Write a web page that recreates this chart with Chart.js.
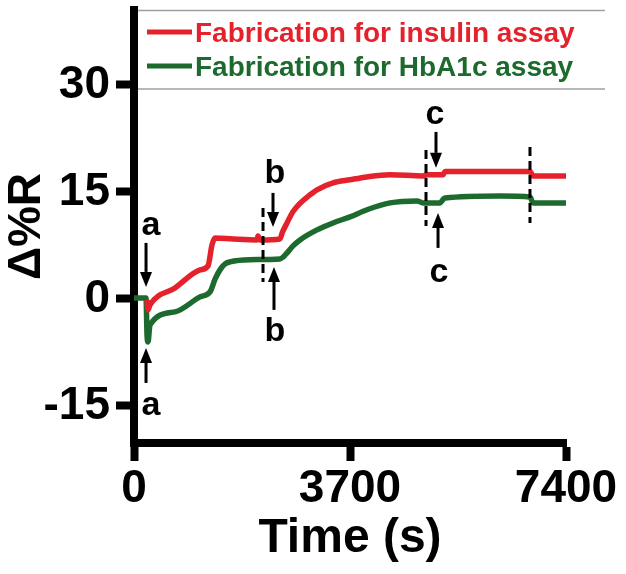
<!DOCTYPE html>
<html><head><meta charset="utf-8">
<script src="https://cdn.jsdelivr.net/npm/chart.js@4"></script>
<style>html,body{margin:0;padding:0;background:#fff;} #wrap{width:626px;height:574px;}</style>
</head><body><div id="wrap"><canvas id="c" width="626" height="574"></canvas></div>
<script>
const seriesLabels = ['Fabrication for insulin assay', 'Fabrication for HbA1c assay'];
const seriesColors = ['#e5212b', '#1d6a2f'];
const insulinTime  = [223, 240, 274, 702, 1131, 1268, 1336, 1388, 1700, 2107, 2124, 2158, 2501, 2540, 2621, 2720, 2844, 3000, 3135, 3409, 3700, 3991, 4385, 4951, 5020, 5290, 5330, 6783, 6835, 7400];
const insulinValue = [-0.14, -1.54, -0.84, 1.54, 4.07, 4.63, 7.57, 8.55, 8.4, 8.27, 8.83, 8.27, 8.41, 9.3, 10.65, 12.2, 13.4, 14.5, 15.3, 16.26, 16.7, 17.1, 17.4, 17.24, 17.4, 17.4, 17.85, 17.85, 17.24, 17.24];
const hba1cTime  = [0, 206, 223, 240, 274, 702, 1131, 1302, 1390, 1473, 1560, 1644, 1987, 2501, 2560, 2621, 2720, 2844, 3135, 3409, 3700, 3991, 4385, 4848, 4951, 5242, 5300, 5328, 6270, 6783, 6835, 7400];
const hba1cValue = [0.14, 0.14, -5.05, -6.03, -3.64, -1.82, 0.28, 0.98, 2.8, 4.07, 4.9, 5.19, 5.5, 5.6, 5.9, 6.45, 7.4, 8.27, 9.67, 10.65, 11.5, 12.5, 13.46, 13.74, 13.46, 13.46, 14.0, 14.16, 14.44, 14.3, 13.46, 13.46];
const xTicks = [0, 3700, 7400];
const yTicks = [-15, 0, 15, 30];
const xTitle = 'Time (s)';
const yTitle = 'Δ%R';
// annotations in data units
const dashTime = [2210, 5002, 6783];
const dashLow  = [2.38, 10.23, 10.65];
const dashHigh = [12.76, 20.89, 21.31];
const arrowTime = [206, 206, 2381, 2398, 5173, 5208];
const arrowFrom = [7.85, -11.78, 14.86, -1.54, 23.41, 7.15];
const arrowTo   = [1.68, -6.87, 10.09, 4.49, 18.37, 12.06];
const labelText  = ['a', 'a', 'b', 'b', 'c', 'c'];
const labelTime  = [291, 291, 2415, 2415, 5156, 5225];
const labelValue = [8.97, -16.26, 16.26, -5.89, 24.53, 2.38];

const FONT = '"Liberation Sans", Arial, Helvetica, sans-serif';

const annot = {
  id: 'annot',
  afterDatasetsDraw(chart) {
    const {ctx, scales: {x, y}} = chart;
    ctx.save();
    ctx.strokeStyle = '#000'; ctx.fillStyle = '#000';
    ctx.lineWidth = 3; ctx.setLineDash([9, 5]);
    dashTime.forEach((t, i) => {
      const px = x.getPixelForValue(t);
      ctx.beginPath();
      ctx.moveTo(px, y.getPixelForValue(dashHigh[i]));
      ctx.lineTo(px, y.getPixelForValue(dashLow[i]));
      ctx.stroke();
    });
    ctx.setLineDash([]);
    arrowTime.forEach((t, i) => {
      const px = x.getPixelForValue(t);
      const y0 = y.getPixelForValue(arrowFrom[i]);
      const y1 = y.getPixelForValue(arrowTo[i]);
      const dir = Math.sign(y1 - y0), hl = 15, hw = 6;
      ctx.lineWidth = 3;
      ctx.beginPath(); ctx.moveTo(px, y0); ctx.lineTo(px, y1 - dir * hl); ctx.stroke();
      ctx.beginPath(); ctx.moveTo(px, y1); ctx.lineTo(px - hw, y1 - dir * hl); ctx.lineTo(px + hw, y1 - dir * hl); ctx.closePath(); ctx.fill();
    });
    ctx.font = 'bold 34px ' + FONT;
    ctx.textAlign = 'center'; ctx.textBaseline = 'alphabetic';
    labelText.forEach((s, i) => ctx.fillText(s, x.getPixelForValue(labelTime[i]), y.getPixelForValue(labelValue[i])));
    ctx.restore();
  },
  afterDraw(chart) {
    const {ctx, chartArea} = chart;
    ctx.save();
    ctx.strokeStyle = '#a0a0a0'; ctx.lineWidth = 1.5;
    const bx0 = chartArea.left + 4, bx1 = 605;
    [chartArea.top + 0.5, chartArea.top + 79].forEach(yy => {
      ctx.beginPath(); ctx.moveTo(bx0, yy); ctx.lineTo(bx1, yy); ctx.stroke();
    });
    ctx.font = 'bold 28px ' + FONT;
    ctx.textAlign = 'left'; ctx.textBaseline = 'middle';
    chart.data.datasets.forEach((ds, i) => {
      const ly = chartArea.top + 22 + i * 34;
      ctx.strokeStyle = ds.borderColor; ctx.lineWidth = 5;
      ctx.beginPath(); ctx.moveTo(chartArea.left + 13, ly); ctx.lineTo(chartArea.left + 58, ly); ctx.stroke();
      ctx.fillStyle = ds.borderColor;
      ctx.fillText(ds.label, chartArea.left + 61, ly + 2);
    });
    ctx.restore();
  }
};

const mk = (ts, vs) => ts.map((t, i) => ({x: t, y: vs[i]}));

new Chart(document.getElementById('c'), {
  type: 'line',
  data: {
    datasets: [
      {label: seriesLabels[0], data: mk(insulinTime, insulinValue), borderColor: seriesColors[0], backgroundColor: seriesColors[0], borderWidth: 5.5, pointRadius: 0, cubicInterpolationMode: 'monotone'},
      {label: seriesLabels[1], data: mk(hba1cTime, hba1cValue), borderColor: seriesColors[1], backgroundColor: seriesColors[1], borderWidth: 5.5, pointRadius: 0, cubicInterpolationMode: 'monotone'}
    ]
  },
  options: {
    responsive: false, animation: false,
    layout: {padding: {left: 0, top: 10, right: 60, bottom: 0}},
    plugins: {legend: {display: false}, tooltip: {enabled: false}},
    scales: {
      x: {
        type: 'linear', min: 0, max: 7400,
        afterBuildTicks: s => { s.ticks = xTicks.map(v => ({value: v})); },
        afterFit: s => { s.height = 131; s.paddingLeft = 0; s.paddingRight = 0; },
        border: {display: true, color: '#000', width: 8},
        grid: {display: true, drawOnChartArea: false, drawTicks: true, tickLength: 18, tickWidth: 8, tickColor: '#000'},
        ticks: {color: '#000', padding: 1, maxRotation: 0, autoSkip: false, font: {family: FONT, size: 46, weight: 'bold'}, callback: v => String(v)},
        title: {display: true, text: xTitle, color: '#000', padding: {top: 0, bottom: 6}, font: {family: FONT, size: 48, weight: 'bold'}}
      },
      y: {
        type: 'linear', min: -20.2, max: 40.5,
        afterBuildTicks: s => { s.ticks = yTicks.map(v => ({value: v})); },
        afterFit: s => { s.width = 134; s.paddingTop = 0; s.paddingBottom = 0; },
        border: {display: true, color: '#000', width: 8},
        grid: {display: true, drawOnChartArea: false, drawTicks: true, tickLength: 18, tickWidth: 8, tickColor: '#000'},
        ticks: {color: '#000', padding: 6, autoSkip: false, font: {family: FONT, size: 46, weight: 'bold'}, callback: v => String(v)},
        title: {display: true, text: yTitle, color: '#000', padding: {top: 0, bottom: 0}, font: {family: FONT, size: 46, weight: 'bold'}}
      }
    }
  },
  plugins: [annot]
});
</script></body></html>
